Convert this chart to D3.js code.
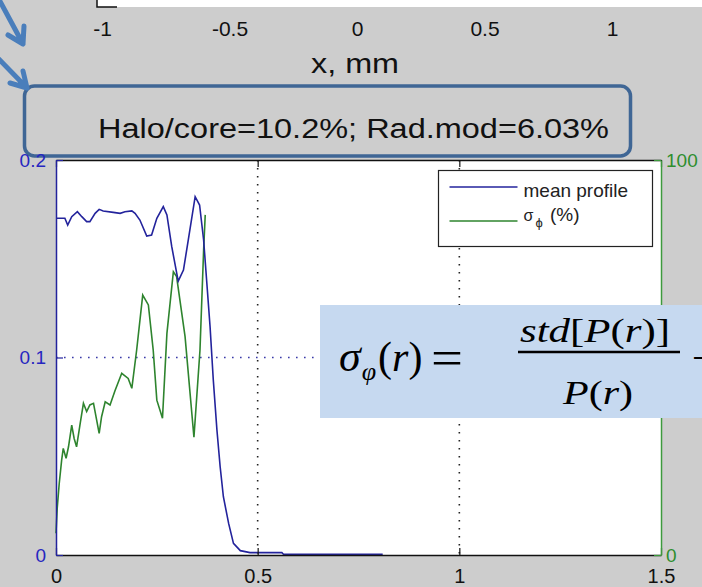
<!DOCTYPE html>
<html>
<head>
<meta charset="utf-8">
<script src="https://cdn.jsdelivr.net/npm/d3@7/dist/d3.min.js"></script>
<style>
body { margin: 0; background: #cdcdcd; }
svg { display: block; font-family: "Liberation Sans", Arial, sans-serif; }
</style>
</head>
<body>
<svg width="702" height="587"></svg>
<script>

// mean radial profile (left axis)
const profileR = [0, 0.022, 0.029, 0.039, 0.053, 0.064, 0.076, 0.084, 0.097, 0.107,
    0.117, 0.142, 0.159, 0.171, 0.188, 0.196, 0.208, 0.225, 0.237, 0.25,
    0.266, 0.275, 0.287, 0.303, 0.316, 0.328, 0.345, 0.356, 0.366, 0.374,
    0.382, 0.39, 0.399, 0.407, 0.415, 0.428, 0.44, 0.457, 0.481, 0.56, 0.564, 0.81];
const profileVal = [0.1705, 0.1705, 0.1671, 0.1713, 0.1738, 0.1713, 0.1688, 0.1688, 0.173, 0.175,
    0.1742, 0.1735, 0.173, 0.1738, 0.1742, 0.173, 0.1696, 0.1615, 0.162, 0.1705,
    0.1764, 0.1722, 0.1561, 0.1387, 0.1443, 0.1595, 0.1814, 0.1772, 0.1595, 0.1376,
    0.1156, 0.0886, 0.0633, 0.0447, 0.0295, 0.016, 0.0059, 0.0022, 0.0012, 0.0012, 0.0004, 0.0004];

// sigma_phi in % (right axis)
const sigmaR = [0, 0.003, 0.008, 0.014, 0.018, 0.025, 0.031, 0.039, 0.045, 0.051,
    0.06, 0.068, 0.076, 0.084, 0.093, 0.107, 0.113, 0.122, 0.134, 0.146,
    0.163, 0.179, 0.188, 0.2, 0.215, 0.229, 0.241, 0.25, 0.264, 0.275,
    0.291, 0.299, 0.32, 0.342, 0.345, 0.357, 0.366, 0.37];
const sigmaPct = [5.5, 11.8, 18.1, 24, 27, 24.5, 27.4, 32.9, 29.5, 27.4,
    33.3, 38.4, 36.3, 38, 38.4, 30.8, 35, 38.8, 38, 41.5,
    46, 44.7, 42.2, 51.9, 65.8, 63.3, 51.9, 39.2, 34.6, 56.1,
    71.7, 70.5, 55.3, 29.8, 34.2, 51.9, 77.2, 86.1];

const xTicks = [0, 0.5, 1, 1.5];
const leftTicks = [0, 0.1, 0.2];
const rightTicks = [0, 100];
const topTicks = [-1, -0.5, 0, 0.5, 1];   // axis of the plot above, cut off

const legendLabels = ['mean profile', 'σϕ (%)'];
const infoText = 'Halo/core=10.2%; Rad.mod=6.03%';

const blue = '#23239c';
const green = '#2e842e';

const svg = d3.select('svg');

svg.append('rect').attr('width', 702).attr('height', 587).attr('fill', '#cdcdcd');

// ---- remains of the upper figure ----

svg.append('rect')
    .attr('x', 97).attr('y', 0).attr('width', 605).attr('height', 7)
    .attr('fill', '#fff');
svg.append('path')
    .attr('d', 'M97,0V7H117')
    .attr('fill', 'none').attr('stroke', '#111').attr('stroke-width', 1.5);

const topX = d3.scaleLinear().domain([-1, 1]).range([102, 612]);

svg.append('g')
    .attr('transform', 'translate(0, 21)')
    .call(d3.axisBottom(topX).tickValues(topTicks).tickSize(0).tickPadding(0)
        .tickFormat(d => String(d)))
    .call(g => g.select('.domain').remove())
    .selectAll('text')
    .attr('font-size', 21).attr('fill', '#111').attr('font-family', null);

svg.append('text')
    .attr('x', 311).attr('y', 73)
    .attr('font-size', 27).attr('fill', '#111')
    .attr('textLength', 88).attr('lengthAdjust', 'spacingAndGlyphs')
    .text('x, mm');

// annotation box and arrows
svg.append('rect')
    .attr('x', 24.5).attr('y', 86).attr('width', 606).attr('height', 70)
    .attr('rx', 10)
    .attr('fill', 'none').attr('stroke', '#3f6695').attr('stroke-width', 3.5);

svg.append('text')
    .attr('x', 98).attr('y', 138)
    .attr('font-size', 27).attr('fill', '#111')
    .attr('textLength', 511).attr('lengthAdjust', 'spacingAndGlyphs')
    .text(infoText);

const arrows = svg.append('g')
    .attr('fill', 'none').attr('stroke', '#4a7ebb')
    .attr('stroke-width', 5).attr('stroke-linecap', 'round').attr('stroke-linejoin', 'round');
arrows.append('path').attr('d', 'M-5,-8L23,44M8,35L23,44L24,26');
arrows.append('path').attr('d', 'M-8,52L27,88M10,83L27,88L23,71');

// ---- main plot ----

const x = d3.scaleLinear().domain([0, 1.5]).range([56, 661]);
const yL = d3.scaleLinear().domain([0, 0.2]).range([555, 160]);
const yR = d3.scaleLinear().domain([0, 100]).range([555, 160]);

svg.append('rect')
    .attr('x', x(0)).attr('y', yL(0.2))
    .attr('width', x(1.5) - x(0)).attr('height', yL(0) - yL(0.2))
    .attr('fill', '#fff');

// dotted grid
svg.append('g')
    .selectAll('line')
    .data([0.5, 1])
    .join('line')
    .attr('x1', d => x(d)).attr('x2', d => x(d))
    .attr('y1', yL(0.2)).attr('y2', yL(0))
    .attr('stroke', '#222').attr('stroke-width', 1.6).attr('stroke-dasharray', '1.6,6.4');

svg.append('line')
    .attr('x1', x(0)).attr('x2', x(1.5))
    .attr('y1', yL(0.1)).attr('y2', yL(0.1))
    .attr('stroke', '#3a3aa8').attr('stroke-width', 1.6).attr('stroke-dasharray', '1.6,6.4');

// curves
const profileLine = d3.line()
    .x((d, i) => x(profileR[i]))
    .y(d => yL(d));

const sigmaLine = d3.line()
    .x((d, i) => x(sigmaR[i]))
    .y(d => yR(d));

svg.append('path')
    .datum(sigmaPct)
    .attr('d', sigmaLine)
    .attr('fill', 'none').attr('stroke', green).attr('stroke-width', 1.6);

svg.append('path')
    .datum(profileVal)
    .attr('d', profileLine)
    .attr('fill', 'none').attr('stroke', blue).attr('stroke-width', 1.6);

// axes
const bottomAxis = svg.append('g')
    .attr('transform', `translate(0, ${yL(0)})`)
    .call(d3.axisBottom(x).tickValues(xTicks).tickSize(-7).tickSizeOuter(0).tickPadding(14)
        .tickFormat(d => String(d)));
bottomAxis.selectAll('text').attr('font-size', 20).attr('fill', '#111');

const topAxis = svg.append('g')
    .attr('transform', `translate(0, ${yL(0.2)})`)
    .call(d3.axisTop(x).tickValues(xTicks).tickSize(-7).tickSizeOuter(0).tickFormat(''));

[bottomAxis, topAxis].forEach(g => {
    g.attr('font-family', null);
    g.select('.domain').attr('stroke', '#111').attr('stroke-width', 1.3);
    g.selectAll('.tick line').attr('stroke', '#111').attr('stroke-width', 1.2);
});

const leftAxis = svg.append('g')
    .attr('transform', `translate(${x(0)}, 0)`)
    .call(d3.axisLeft(yL).tickValues(leftTicks).tickSize(-7).tickSizeOuter(0).tickPadding(10)
        .tickFormat(d => String(d)));
leftAxis.attr('font-family', null);
leftAxis.select('.domain').attr('stroke', blue).attr('stroke-width', 1.5);
leftAxis.selectAll('.tick line').attr('stroke', blue).attr('stroke-width', 1.2);
leftAxis.selectAll('text').attr('font-size', 19).attr('fill', '#2626c0');

const rightAxis = svg.append('g')
    .attr('transform', `translate(${x(1.5)}, 0)`)
    .call(d3.axisRight(yR).tickValues(rightTicks).tickSize(-7).tickSizeOuter(0).tickPadding(5)
        .tickFormat(d => String(d)));
rightAxis.attr('font-family', null);
rightAxis.select('.domain').attr('stroke', '#3d9a3d').attr('stroke-width', 1.5);
rightAxis.selectAll('.tick line').attr('stroke', '#3d9a3d').attr('stroke-width', 1.2);
rightAxis.selectAll('text').attr('font-size', 19).attr('fill', '#2e8e2e');

// legend
const legend = svg.append('g').attr('transform', 'translate(438.5, 170.5)');

legend.append('rect')
    .attr('width', 214).attr('height', 76)
    .attr('fill', '#fff').attr('stroke', '#222').attr('stroke-width', 1.2);

legend.selectAll('line')
    .data([blue, green])
    .join('line')
    .attr('x1', 11).attr('x2', 79)
    .attr('y1', (d, i) => 16.5 + i * 34).attr('y2', (d, i) => 16.5 + i * 34)
    .attr('stroke', d => d).attr('stroke-width', 1.5);

legend.append('text')
    .attr('x', 85).attr('y', 26)
    .attr('font-size', 19).attr('fill', '#222')
    .text(legendLabels[0]);

const sigText = legend.append('text')
    .attr('x', 85).attr('y', 50)
    .attr('font-size', 16).attr('fill', '#222');
sigText.append('tspan').text(legendLabels[1][0]);
sigText.append('tspan').attr('font-size', 13).attr('dy', 6).attr('dx', 2).text(legendLabels[1][1]);
sigText.append('tspan').attr('font-size', 19).attr('dy', -6).attr('dx', 2).text(legendLabels[1].slice(2));

// ---- formula overlay ----

const formula = svg.append('g')
    .attr('font-family', '"Liberation Serif", "DejaVu Serif", serif')
    .attr('fill', '#000');

formula.append('rect')
    .attr('x', 320).attr('y', 305).attr('width', 390).attr('height', 113)
    .attr('fill', '#c6d9f0');

// left-hand side as one text so the pieces do not collide
const lhs = formula.append('text')
    .attr('x', 339).attr('y', 371)
    .attr('font-size', 42);
lhs.append('tspan').attr('font-style', 'italic').attr('font-size', 44).text('σ');
lhs.append('tspan').attr('font-style', 'italic').attr('font-size', 26).attr('dy', 9).attr('dx', 1).text('φ');
lhs.append('tspan').attr('dy', -9).attr('dx', 2).text('(');
lhs.append('tspan').attr('font-style', 'italic').text('r');
lhs.append('tspan').text(')');

formula.append('text')
    .attr('x', 431).attr('y', 375)
    .attr('font-size', 50)
    .attr('textLength', 32).attr('lengthAdjust', 'spacingAndGlyphs')
    .text('=');

const num = formula.append('text')
    .attr('x', 520).attr('y', 342)
    .attr('font-size', 33)
    .attr('textLength', 150).attr('lengthAdjust', 'spacingAndGlyphs');
num.append('tspan').attr('font-style', 'italic').text('std');
num.append('tspan').text('[');
num.append('tspan').attr('font-style', 'italic').text('P');
num.append('tspan').text('(');
num.append('tspan').attr('font-style', 'italic').text('r');
num.append('tspan').text(')]');

formula.append('line')
    .attr('x1', 518).attr('x2', 680).attr('y1', 352).attr('y2', 352)
    .attr('stroke', '#000').attr('stroke-width', 2.5);

const den = formula.append('text')
    .attr('x', 563).attr('y', 404)
    .attr('font-size', 33)
    .attr('textLength', 70).attr('lengthAdjust', 'spacingAndGlyphs');
den.append('tspan').attr('font-style', 'italic').text('P');
den.append('tspan').text('(');
den.append('tspan').attr('font-style', 'italic').text('r');
den.append('tspan').text(')');

// minus sign cut by the picture edge, as in the slide
formula.append('text')
    .attr('x', 692).attr('y', 371)
    .attr('font-size', 40)
    .text('−');

</script>
</body>
</html>
